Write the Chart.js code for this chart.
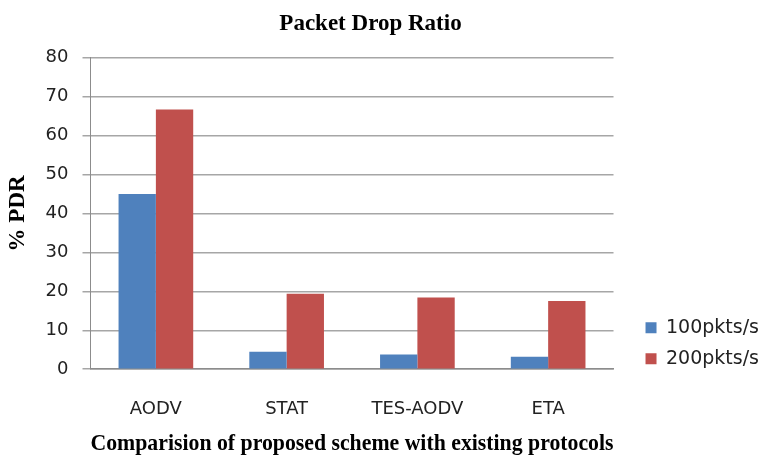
<!DOCTYPE html>
<html>
<head>
<meta charset="utf-8">
<script src="https://cdn.jsdelivr.net/npm/chart.js@4.4.1/dist/chart.umd.min.js"></script>
<style>
  html, body { margin: 0; padding: 0; background: #ffffff; }
  #wrap { width: 765px; height: 461px; }
</style>
</head>
<body>
<div id="wrap"><canvas id="chart" width="765" height="461"></canvas></div>
<script>
// Protocols compared and their packet drop ratios (%) at two traffic rates
const categories = ['AODV', 'STAT', 'TES-AODV', 'ETA'];
const rate100 = [45, 4.5, 3.8, 3.2];
const rate200 = [66.7, 19.4, 18.4, 17.5];
const seriesNames = ['100pkts/s', '200pkts/s'];
const yTicks = [0, 10, 20, 30, 40, 50, 60, 70, 80];

const serif = '"Liberation Serif", "Times New Roman", serif';
const sans = '"DejaVu Sans", sans-serif';

// Sit the legend low beside the plot and pull the title slightly left
const boxNudge = {
  id: 'boxNudge',
  afterLayout(chart) {
    const lg = chart.legend;
    if (lg) { lg.left += 20; lg.right += 20; lg.top += 11; lg.bottom += 11; }
    const tb = chart.titleBlock;
    if (tb) { tb.left -= 6; tb.right -= 6; }
  }
};

new Chart(document.getElementById('chart'), {
  type: 'bar',
  data: {
    labels: categories,
    datasets: [
      { label: seriesNames[0], data: rate100, backgroundColor: '#4F81BD', borderWidth: 0 },
      { label: seriesNames[1], data: rate200, backgroundColor: '#C0504D', borderWidth: 0 }
    ]
  },
  plugins: [boxNudge],
  options: {
    responsive: false,
    animation: false,
    layout: { padding: { top: 4, right: 16, left: 4, bottom: 3 } },
    datasets: { bar: { categoryPercentage: 0.571, barPercentage: 1.0 } },
    plugins: {
      title: {
        display: true,
        text: 'Packet Drop Ratio',
        color: '#000',
        font: { family: serif, size: 23, weight: 'bold' },
        padding: { top: 6, bottom: 20 }
      },
      legend: {
        position: 'right',
        align: 'end',
        fullSize: false,
        labels: {
          color: '#222',
          font: { family: sans, size: 19 },
          boxWidth: 11,
          boxHeight: 11,
          padding: 12
        }
      },
      tooltip: { enabled: false }
    },
    scales: {
      x: {
        grid: { display: false },
        border: { color: '#8c8c8c', width: 1.5 },
        ticks: { color: '#222', font: { family: sans, size: 18 }, padding: 21 },
        title: {
          display: true,
          text: 'Comparision of proposed scheme with existing protocols',
          color: '#000',
          font: { family: serif, size: 23.5, weight: 'bold' },
          padding: { top: -11, bottom: 0 }
        }
      },
      y: {
        min: 0,
        max: 80,
        afterBuildTicks: (axis) => { axis.ticks = yTicks.map(v => ({ value: v })); },
        grid: { color: '#a6a6a6', lineWidth: 1.5, tickLength: 8 },
        border: { color: '#8c8c8c' },
        ticks: { color: '#222', font: { family: sans, size: 18 }, padding: 14 },
        title: {
          display: true,
          text: '% PDR',
          color: '#000',
          font: { family: serif, size: 23, weight: 'bold' },
          padding: { top: 0, bottom: 0 }
        }
      }
    }
  }
});
</script>
</body>
</html>
